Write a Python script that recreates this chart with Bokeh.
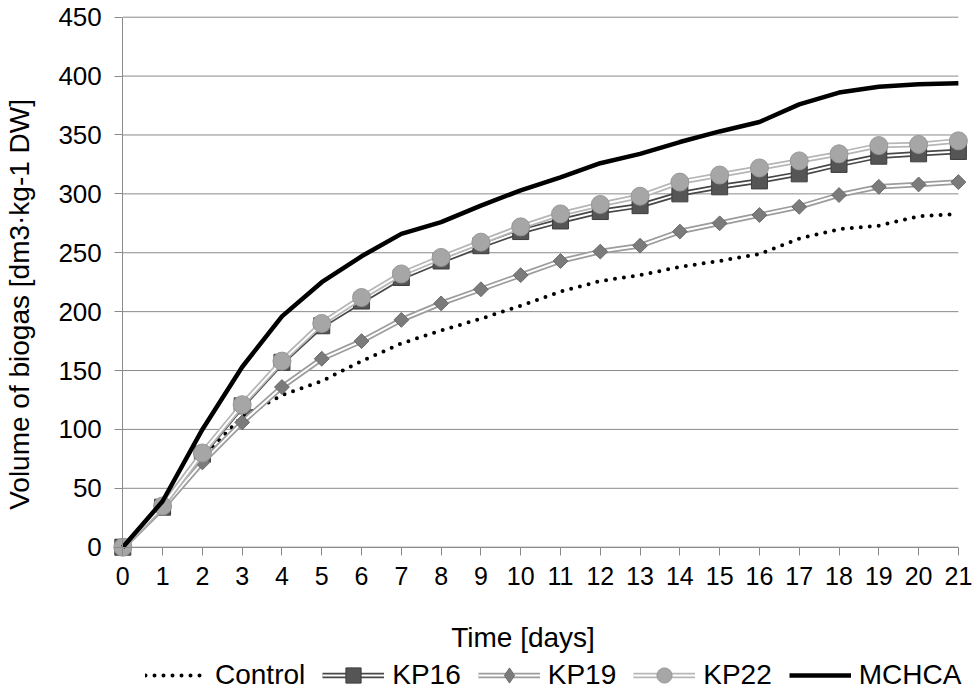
import math
from bokeh.plotting import figure
from bokeh.models import Range1d, FixedTicker, Legend, LegendItem, Label
from bokeh.embed import file_html
from bokeh.resources import INLINE

# ---- data ----
days = list(range(22))
control = [0, 35, 76, 111, 129, 141, 158, 173, 184, 194, 205, 217, 226, 231, 238, 243, 249, 262, 270, 273, 281, 283]
kp16 = [0, 34, 79, 120, 157, 188, 209, 229, 243, 256, 268, 277, 285, 290, 300, 306, 311, 317, 325, 332, 334, 336]
kp19 = [0, 33, 72, 106, 136, 160, 175, 193, 207, 219, 231, 243, 251, 256, 268, 275, 282, 289, 299, 306, 308, 310]
kp22 = [0, 35, 80, 121, 158, 190, 212, 232, 246, 259, 272, 283, 291, 298, 310, 316, 322, 328, 334, 341, 342, 345]
mchca = [0, 39, 100, 153, 196, 225, 247, 266, 276, 290, 303, 314, 326, 334, 344, 353, 361, 376, 386, 391, 393, 394]
y_ticks = [0, 50, 100, 150, 200, 250, 300, 350, 400, 450]
x_title = "Time [days]"
y_title = "Volume of biogas  [dm3\u00b7kg-1 DW]"
series_names = ["Control", "KP16", "KP19", "KP22", "MCHCA"]

FONT = "Liberation Sans"
AXIS_C = "#8a8a8a"
W, H = 975, 692

# The plotting frame covers the whole canvas; the data area sits inside it.
p = figure(width=W, height=H, output_backend="svg", toolbar_location=None, title=None,
           x_range=Range1d(-3.0736, 21.430), y_range=Range1d(-123.37, 464.18),
           min_border_left=0, min_border_right=0, min_border_top=0, min_border_bottom=0)
p.outline_line_color = None
p.background_fill_color = "white"
p.border_fill_color = "white"
p.xgrid.grid_line_color = None
p.ygrid.grid_line_color = None

# horizontal gridlines across the data area
p.segment(x0=[days[0]] * len(y_ticks), y0=y_ticks, x1=[days[-1]] * len(y_ticks), y1=y_ticks,
          line_color=AXIS_C, line_width=1)

xa = p.xaxis[0]
xa.ticker = FixedTicker(ticks=days)
xa.fixed_location = 0
xa.bounds = (days[0], days[-1])
xa.axis_line_color = AXIS_C
xa.major_tick_line_color = AXIS_C
xa.major_tick_out = 8
xa.major_tick_in = 0
xa.minor_tick_out = 0
xa.minor_tick_in = 0
xa.major_label_standoff = 12
xa.major_label_text_font = FONT
xa.major_label_text_font_size = "25px"
xa.major_label_text_color = "black"

ya = p.yaxis[0]
ya.ticker = FixedTicker(ticks=y_ticks)
ya.fixed_location = 0
ya.bounds = (y_ticks[0], y_ticks[-1])
ya.axis_line_color = AXIS_C
ya.major_tick_line_color = AXIS_C
ya.major_tick_out = 8
ya.major_tick_in = 0
ya.minor_tick_out = 0
ya.minor_tick_in = 0
ya.major_label_standoff = 13
ya.major_label_text_font = FONT
ya.major_label_text_font_size = "26px"
ya.major_label_text_color = "black"

# ---- series ----
r_c = p.line(days, control, line_color="black", line_width=4, line_dash="0 9", line_cap="round")

o16 = p.line(days, kp16, line_color="#474747", line_width=5.5, line_join="round")
i16 = p.line(days, kp16, line_color="white", line_width=2, line_join="round")
m16 = p.scatter(days, kp16, marker="square", size=16, fill_color="#555555", line_color="#3d3d3d", line_width=1)

o19 = p.line(days, kp19, line_color="#9c9c9c", line_width=5.5, line_join="round")
i19 = p.line(days, kp19, line_color="white", line_width=2, line_join="round")
# diamond glyph used for the legend swatch (legend swatches are drawn unrotated); it lies under the rotated squares
k19 = p.scatter(days, kp19, marker="diamond", size=12, fill_color="#7b7b7b", line_color="#6a6a6a", line_width=1)
m19 = p.scatter(days, kp19, marker="square", angle=math.pi / 4, size=10.5, fill_color="#7b7b7b", line_color="#6a6a6a", line_width=1)

o22 = p.line(days, kp22, line_color="#b6b6b6", line_width=5.5, line_join="round")
i22 = p.line(days, kp22, line_color="white", line_width=2, line_join="round")
m22 = p.scatter(days, kp22, marker="circle", size=18, fill_color="#a6a6a6", line_color="#989898", line_width=1)

r_m = p.line(days, mchca, line_color="black", line_width=4.5, line_join="round")

legend = Legend(items=[
    LegendItem(label=series_names[0], renderers=[r_c]),
    LegendItem(label=series_names[1], renderers=[o16, i16, m16]),
    LegendItem(label=series_names[2], renderers=[o19, i19, k19]),
    LegendItem(label=series_names[3], renderers=[o22, i22, m22]),
    LegendItem(label=series_names[4], renderers=[r_m]),
], orientation="horizontal", location=(145, -2),
    glyph_width=62, glyph_height=38, label_standoff=8, spacing=17,
    padding=0, margin=0, border_line_color=None, background_fill_alpha=0,
    label_text_font=FONT, label_text_font_size="28px", label_text_color="black")
p.add_layout(legend)

p.add_layout(Label(x=522.5, y=54.7, x_units="screen", y_units="screen", text=x_title,
                   text_align="center", text_baseline="alphabetic",
                   text_font=FONT, text_font_size="28px", text_color="black"))
p.add_layout(Label(x=19, y=392, x_units="screen", y_units="screen", text=y_title,
                   angle=math.pi / 2, text_align="center", text_baseline="alphabetic",
                   text_font=FONT, text_font_size="28px", text_color="black"))

open("out.html", "w").write(file_html(p, INLINE))
